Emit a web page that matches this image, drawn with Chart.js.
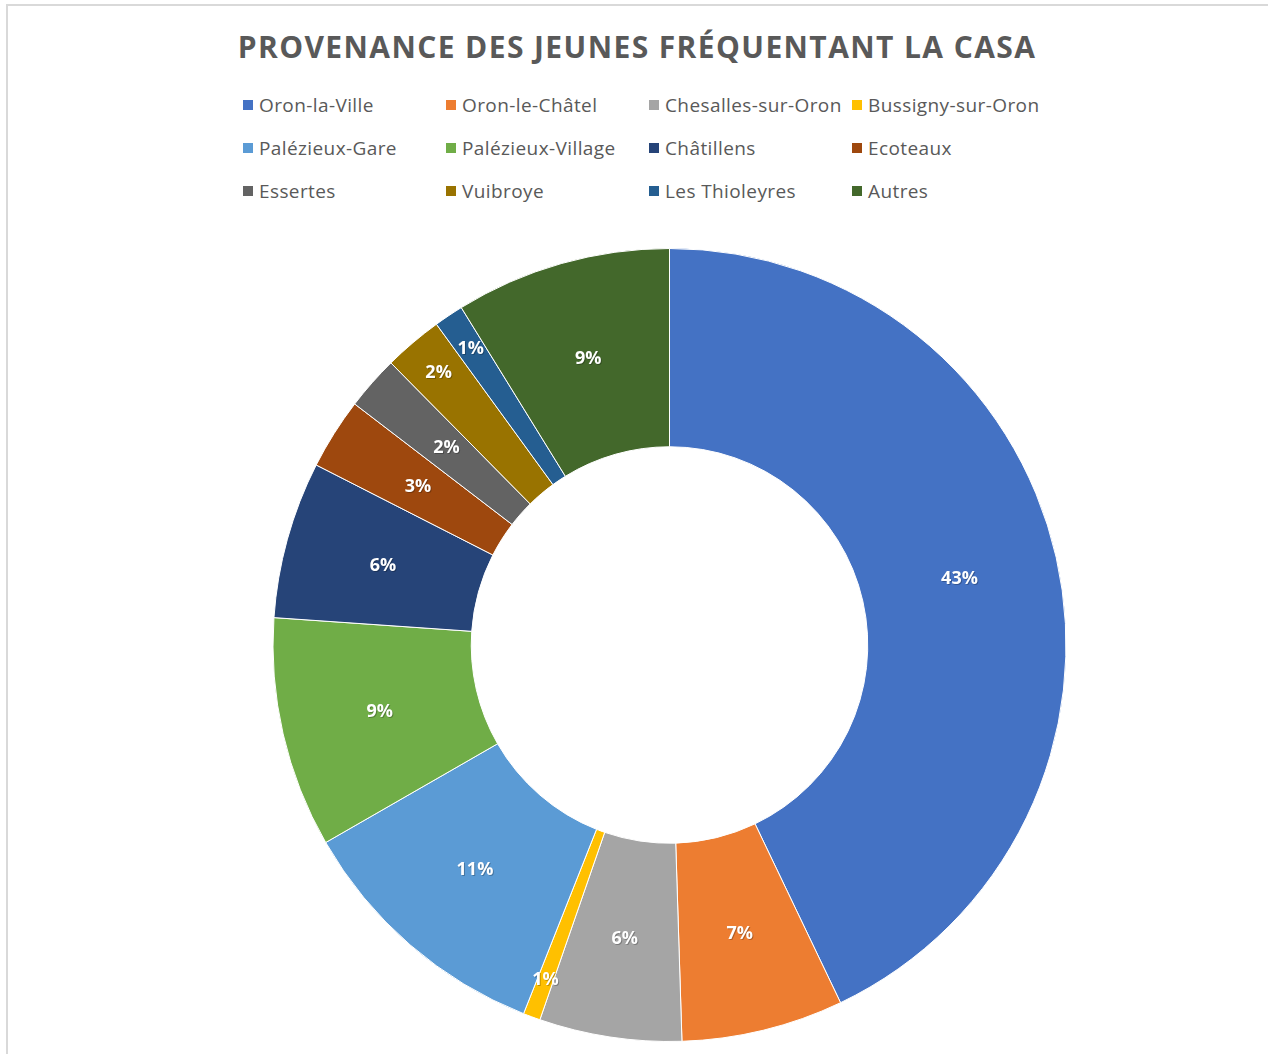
<!DOCTYPE html>
<html>
<head>
<meta charset="utf-8">
<script src="https://cdn.jsdelivr.net/npm/chart.js@4/dist/chart.umd.min.js"></script>
<style>
  html, body { margin: 0; padding: 0; background: #fff; }
  body { width: 1268px; height: 1054px; position: relative; overflow: hidden; font-family: "Open Sans", sans-serif; }
  .frame { position: absolute; left: 6px; top: 4px; right: -10px; bottom: -10px; border-top: 2px solid #d9d9d9; border-left: 2px solid #d9d9d9; }
  .title { position: absolute; left: 0; width: 1274px; top: 26px; text-align: center; font-size: 30px; font-weight: 700; color: #595959; letter-spacing: 1.4px; }
  .legend { position: absolute; left: 243px; top: 92px; display: grid; grid-template-columns: 203px 203px 203px 203px; grid-auto-rows: 43px; }
  .legend div { font-size: 19px; color: #595959; display: flex; align-items: center; height: 26px; white-space: nowrap; letter-spacing: 0.4px; }
  .legend span { display: inline-block; width: 10px; height: 10px; margin-right: 6px; }
  #wrap { position: absolute; left: 0; top: 0; width: 1268px; height: 1054px; }
</style>
</head>
<body>
<div class="frame"></div>
<div class="title">PROVENANCE DES JEUNES FRÉQUENTANT LA CASA</div>
<div class="legend" id="legend"></div>
<div id="wrap"><canvas id="myChart"></canvas></div>
<script>
const places = ['Oron-la-Ville', 'Oron-le-Châtel', 'Chesalles-sur-Oron', 'Bussigny-sur-Oron',
    'Palézieux-Gare', 'Palézieux-Village', 'Châtillens', 'Ecoteaux',
    'Essertes', 'Vuibroye', 'Les Thioleyres', 'Autres'];
const shares = [42.9, 6.6, 5.8, 0.7, 10.7, 9.4, 6.4, 2.9, 2.2, 2.4, 1.2, 8.8];
const colors = ['#4472C4', '#ED7D31', '#A5A5A5', '#FFC000', '#5B9BD5', '#70AD47',
    '#264478', '#9E480E', '#636363', '#997300', '#255E91', '#43682B'];

// légende en grille 4 colonnes comme dans Excel
const legend = document.getElementById('legend');
places.forEach((p, i) => {
    const d = document.createElement('div');
    d.innerHTML = `<span style="background:${colors[i]}"></span>${p}`;
    legend.appendChild(d);
});

// étiquettes de pourcentage, poussées vers l'extérieur si elles se chevauchent
const pctLabels = {
    id: 'pctLabels',
    afterDatasetsDraw(chart) {
        const ctx = chart.ctx;
        const meta = chart.getDatasetMeta(0);
        const total = shares.reduce((a, b) => a + b, 0);
        const placed = [];
        ctx.save();
        ctx.font = 'bold 18px "Open Sans", sans-serif';
        ctx.textAlign = 'center';
        ctx.textBaseline = 'middle';
        meta.data.forEach((arc, i) => {
            const mid = (arc.startAngle + arc.endAngle) / 2;
            const txt = Math.round(shares[i] / total * 100) + '%';
            const w = ctx.measureText(txt).width, h = 18;
            let r = (arc.innerRadius + arc.outerRadius) / 2;
            let x = arc.x + Math.cos(mid) * r, y = arc.y + Math.sin(mid) * r;
            const hit = placed.some(b => Math.abs(b.x - x) < (b.w + w) / 2 + 12 && Math.abs(b.y - y) < h + 14);
            if (hit || shares[i] / total < 0.015) {
                r = arc.outerRadius * 0.9;
                x = arc.x + Math.cos(mid) * r;
                y = arc.y + Math.sin(mid) * r;
            }
            placed.push({x, y, w});
            ctx.fillStyle = 'rgba(0,0,0,0.25)';
            ctx.fillText(txt, x + 1, y + 1);
            ctx.fillStyle = '#ffffff';
            ctx.fillText(txt, x, y);
        });
        ctx.restore();
    }
};

new Chart(document.getElementById('myChart'), {
    type: 'doughnut',
    data: {
        labels: places,
        datasets: [{
            data: shares,
            backgroundColor: colors,
            borderColor: '#ffffff',
            borderWidth: 1
        }]
    },
    options: {
        responsive: true,
        maintainAspectRatio: false,
        animation: false,
        cutout: '50%',
        layout: { padding: { top: 248, bottom: 12, left: 272, right: 201 } },
        plugins: {
            legend: { display: false },
            tooltip: { enabled: false }
        }
    },
    plugins: [pctLabels]
});
</script>
</body>
</html>
